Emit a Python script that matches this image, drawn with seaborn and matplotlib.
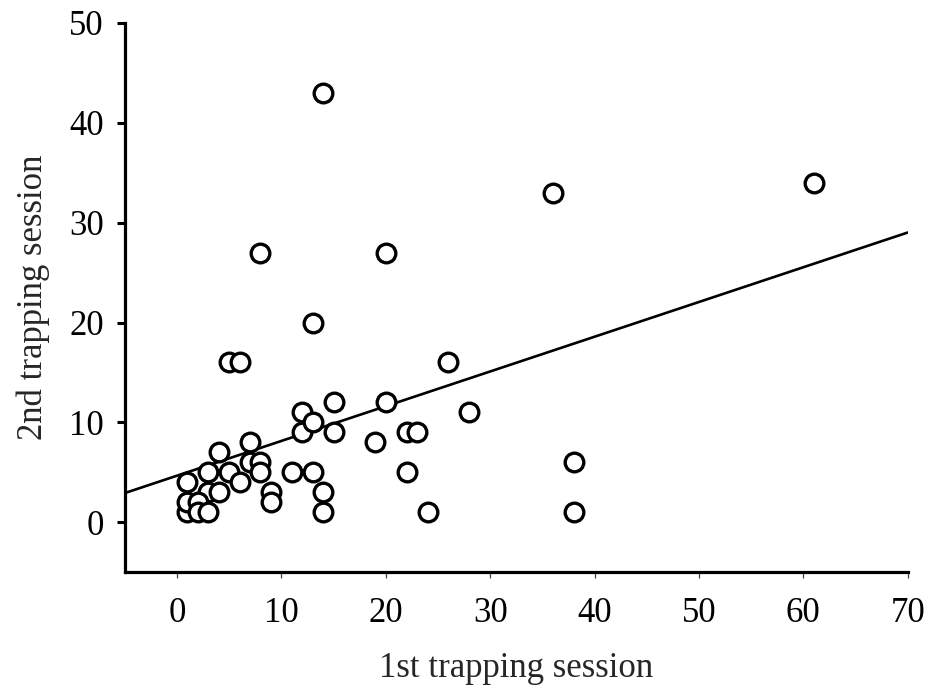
import matplotlib
matplotlib.use("Agg")
import matplotlib.pyplot as plt
import seaborn as sns
import pandas as pd

first = [14, 36, 61, 8, 20, 13, 5, 6, 26, 15, 20, 28, 12, 12, 13, 15, 19, 22, 23,
         4, 7, 7, 8, 8, 5, 3, 6, 1, 3, 4, 9, 9, 11, 13, 14, 14, 22, 24, 38, 38,
         1, 1, 2, 2, 3]
second = [43, 33, 34, 27, 27, 20, 16, 16, 16, 12, 12, 11, 11, 9, 10, 9, 8, 9, 9,
          7, 8, 6, 6, 5, 5, 5, 4, 4, 3, 3, 3, 2, 5, 5, 3, 1, 5, 1, 6, 1,
          1, 2, 2, 1, 1]
xticks = [0, 10, 20, 30, 40, 50, 60, 70]
yticks = [0, 10, 20, 30, 40, 50]

df = pd.DataFrame({"first": first, "second": second})

sns.set_style("white")
plt.rcParams["font.family"] = ["Liberation Serif", "DejaVu Serif"]

fig = plt.figure(figsize=(9.31, 6.96), dpi=100)
ax = fig.add_axes([0.134, 0.178, 0.841, 0.789])
ax.set_xlim(-5, 70)
ax.set_ylim(-5, 50)
sns.regplot(data=df, x="first", y="second", ax=ax, ci=None, truncate=False,
            scatter_kws=dict(s=180, facecolor="white", edgecolor="black", linewidths=2.4,
                             alpha=1, zorder=3),
            line_kws=dict(color="black", lw=1.9, zorder=2))
ax.set_xlim(-5, 70)
ax.set_ylim(-5, 50)
ax.set_xticks(xticks)
ax.set_yticks(yticks)
sns.despine(ax=ax)
for s in ["left", "bottom"]:
    ax.spines[s].set_linewidth(2.3)
    ax.spines[s].set_color("black")
    ax.spines[s].set_capstyle("projecting")
ax.tick_params(axis="x", direction="out", length=4, width=0.9, color="#444444",
               labelcolor="black", labelsize=25, pad=14, bottom=True)
ax.tick_params(axis="y", direction="out", length=6, width=2.2, color="black",
               labelcolor="black", labelsize=25, pad=9, left=True)
ax.set_xlabel("1st trapping session", fontsize=25, labelpad=16)
ax.set_ylabel("2nd trapping session", fontsize=25, labelpad=14)
fig.savefig("out.png", dpi=100)
